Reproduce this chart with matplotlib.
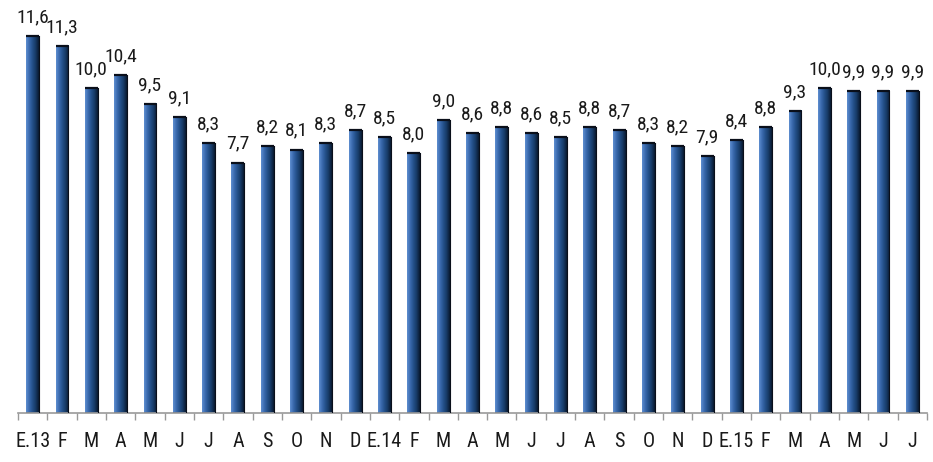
import matplotlib
matplotlib.use("Agg")
import matplotlib.pyplot as plt
import numpy as np
from matplotlib.colors import LinearSegmentedColormap

categories = ["E.13", "F", "M", "A", "M", "J", "J", "A", "S", "O", "N", "D",
              "E.14", "F", "M", "A", "M", "J", "J", "A", "S", "O", "N", "D",
              "E.15", "F", "M", "A", "M", "J", "J"]
values = [11.6, 11.3, 10.0, 10.4, 9.5, 9.1, 8.3, 7.7, 8.2, 8.1, 8.3, 8.7,
          8.5, 8.0, 9.0, 8.6, 8.8, 8.6, 8.5, 8.8, 8.7, 8.3, 8.2, 7.9,
          8.4, 8.8, 9.3, 10.0, 9.9, 9.9, 9.9]

plt.rcParams["font.family"] = ["Roboto Condensed", "Archivo Narrow", "DejaVu Sans"]

fig = plt.figure(figsize=(9.33, 4.62), dpi=100)
ax = fig.add_axes([18/933, (462-412.5)/462, 909/933, 412.5/462])

x = np.arange(len(values))
bars = ax.bar(x, values, width=0.44, color="#1F4575", edgecolor="none", zorder=2)

cmap = LinearSegmentedColormap.from_list(
    "barg", ["#5F8FD0", "#3A6AAE", "#24508A", "#173A66", "#0A1A30"])
grad = np.linspace(0, 1, 64).reshape(1, -1)
for b in bars:
    x0, w, h = b.get_x(), b.get_width(), b.get_height()
    ax.imshow(grad, cmap=cmap, extent=(x0, x0 + w, 0, h), aspect="auto",
              zorder=3, interpolation="bilinear")
    ax.plot([x0, x0 + w], [h, h], color="#0A0F1A", lw=1.6, zorder=4,
            solid_capstyle="butt")
    ax.plot([x0 + w, x0 + w], [0, h], color="#0A0F1A", lw=0.8, zorder=4)

for xi, v in zip(x, values):
    ax.annotate(f"{v:.1f}".replace(".", ","), (xi, v), xytext=(0, 7),
                textcoords="offset points", ha="center", va="bottom",
                fontsize=14, color="#1a1a1a")

ax.set_xlim(-0.5, len(values) - 0.5)
ax.set_ylim(0, 412.5 / 32.46)
ax.set_yticks([])
for s in ["top", "right", "left"]:
    ax.spines[s].set_visible(False)
ax.spines["bottom"].set_color("#999999")
ax.spines["bottom"].set_linewidth(1.2)
ax.set_xticks(np.arange(-0.5, len(values), 1.0), minor=False)
ax.set_xticklabels([])
ax.tick_params(axis="x", which="major", length=5, color="#999999", width=1)
ax.set_xticks(x, minor=True)
ax.set_xticklabels(categories, minor=True, fontsize=14.5, color="#1a1a1a")
ax.tick_params(axis="x", which="minor", length=0, pad=14)

fig.savefig("out.png", dpi=100)
